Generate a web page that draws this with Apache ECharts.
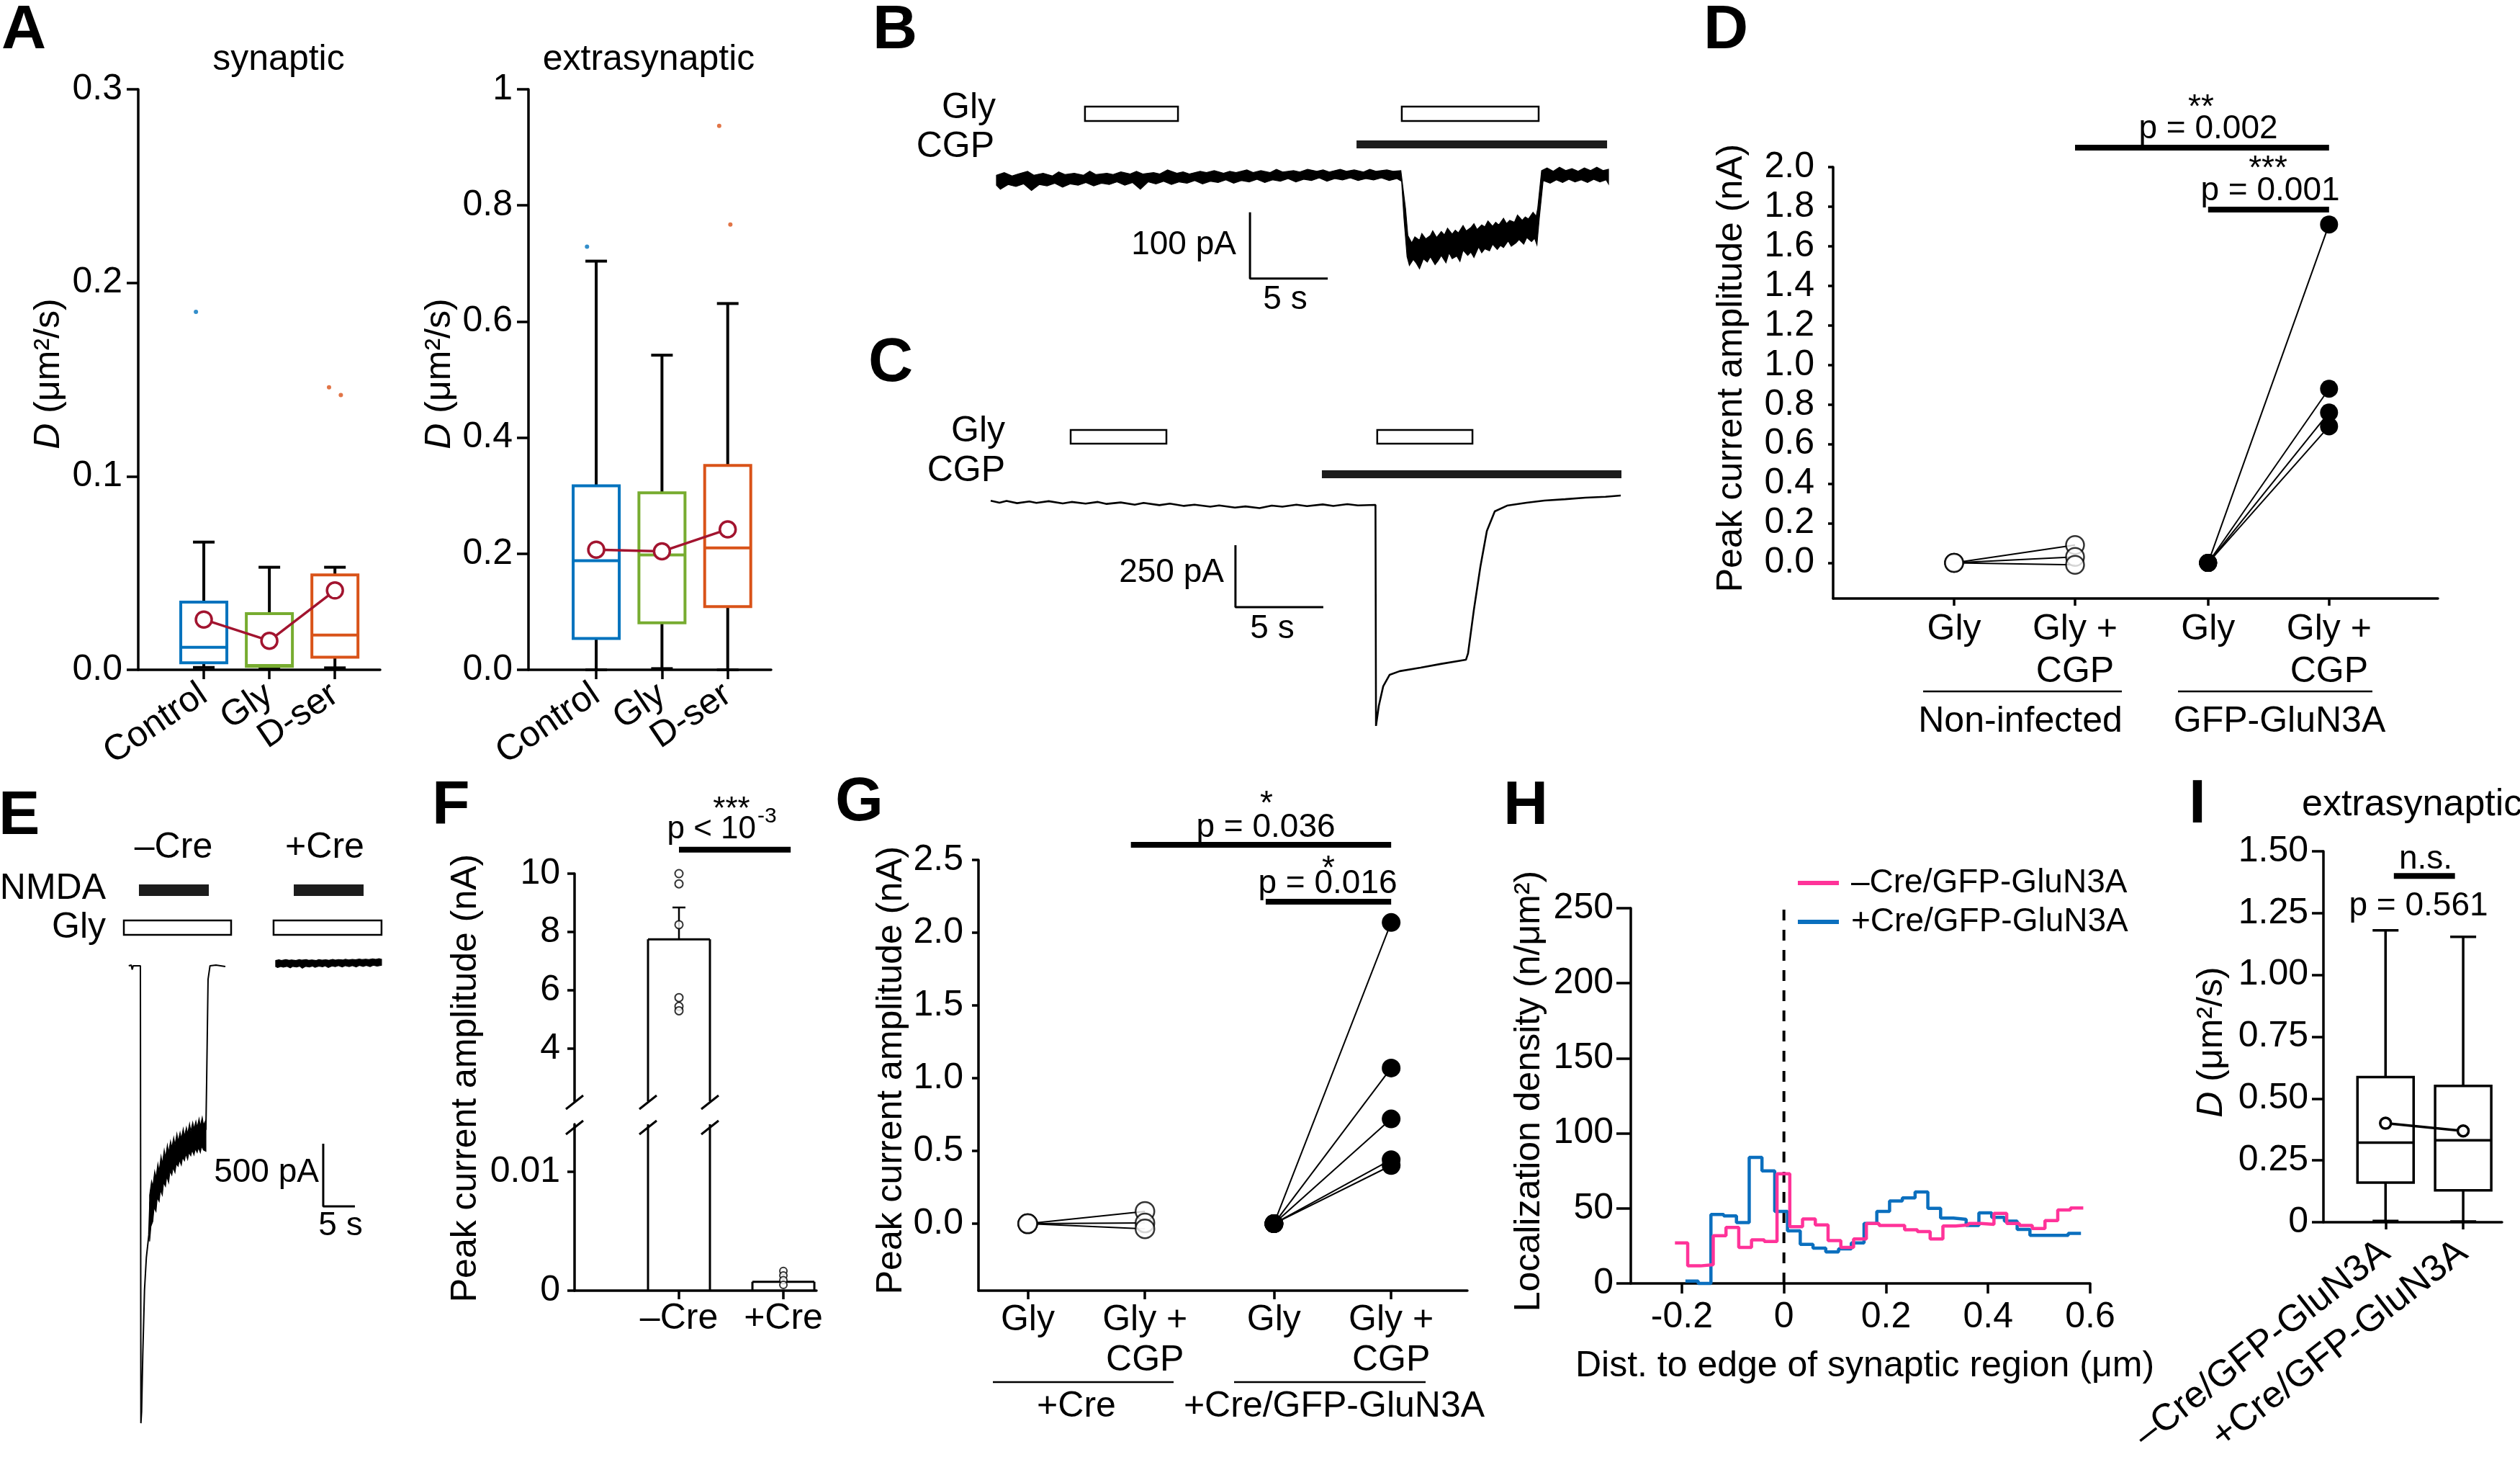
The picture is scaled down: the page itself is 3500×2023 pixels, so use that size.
<!DOCTYPE html>
<html><head><meta charset="utf-8">
<script src="https://cdn.jsdelivr.net/npm/echarts@6/dist/echarts.min.js"></script>
<style>html,body{margin:0;padding:0;background:#fff}#c{width:3500px;height:2023px}</style>
</head><body><div id="c"></div>
<script>
// ================= DATA =================
// Panel A
const aCats = ['Control', 'Gly', 'D-ser'];
const aPos = [1, 2, 3];
const aColors = ['#0072BD', '#77AC30', '#D95319'];
// [min, Q1, median, Q3, max]
const aSynBox = [[0.0012, 0.0036, 0.0116, 0.035, 0.066], [0.0005, 0.0018, 0.0022, 0.029, 0.053], [0.001, 0.0065, 0.018, 0.049, 0.053]];
const aSynOut = [[0.88, 0.185, 0], [2.91, 0.146, 2], [3.09, 0.142, 2]];
const aSynMean = [0.026, 0.015, 0.041];
const aExtBox = [[0, 0.054, 0.188, 0.317, 0.704], [0.002, 0.081, 0.198, 0.305, 0.542], [0, 0.109, 0.210, 0.352, 0.631]];
const aExtOut = [[0.86, 0.729, 0], [2.87, 0.937, 2], [3.04, 0.767, 2]];
const aExtMean = [0.207, 0.204, 0.242];

// Panel B (t in s, current in pA) : upper / lower envelope of the noisy trace
const bUpper = [[0,5],[0.5,9],[1,4],[1.4,7],[2,11],[2.4,5],[3,8],[3.6,4],[4,10],[4.4,6],[5,8],[5.6,5],[6,11],[6.4,6],[7.1,8],[7.5,6],[8,10],[8.6,7],[9,11],[9.4,7],[10.1,9],[10.5,7],[11,13],[11.6,8],[12,10],[12.4,7],[13.1,11],[13.5,9],[14,12],[14.6,8],[15,11],[15.4,9],[16.1,13],[16.5,9],[17,12],[17.6,9],[18,14],[18.4,10],[19.1,12],[19.5,10],[20,14],[20.6,11],[21,13],[21.4,10],[22.1,14],[22.5,11],[23,13],[23.6,10],[24,14],[24.4,11],[25.1,13],[25.5,11],[26,12],
  [26.3,-45],[26.45,-86],[26.7,-97],[26.9,-88],[27.2,-93],[27.35,-83],[27.6,-91],[27.9,-86],[28.05,-79],[28.3,-89],[28.6,-80],[28.8,-85],[29.0,-75],[29.3,-84],[29.5,-78],[29.7,-82],[30.0,-71],[30.2,-79],[30.5,-74],[30.7,-68],[30.9,-77],[31.2,-70],[31.4,-73],[31.6,-64],[31.9,-72],[32.1,-66],[32.3,-70],[32.6,-60],[32.8,-68],[33.0,-63],[33.3,-66],[33.5,-55],[33.8,-63],[34.0,-58],[34.2,-61],[34.5,-51],[34.7,-57],[34.8,-45],
  [35.05,12],[35.4,16],[35.8,11],[36.2,17],[36.6,12],[37.0,15],[37.4,11],[37.8,16],[38.2,12],[38.6,17],[39.0,12],[39.35,14]];
const bLower = [[0,-10],[0.25,-16],[0.75,-9],[1.25,-12],[1.75,-8],[2.25,-18],[2.75,-9],[3.25,-11],[3.75,-7],[4.25,-13],[4.75,-8],[5.25,-10],[5.75,-6],[6.25,-11],[6.75,-7],[7.25,-9],[7.75,-5],[8.25,-10],[8.75,-6],[9.25,-16],[9.75,-5],[10.25,-8],[10.75,-4],[11.25,-9],[11.75,-5],[12.25,-7],[12.75,-3],[13.25,-8],[13.75,-4],[14.25,-6],[14.75,-2],[15.25,-7],[15.75,-3],[16.25,-5],[16.75,-1],[17.25,-6],[17.75,-2],[18.25,-4],[18.75,0],[19.25,-5],[19.75,-1],[20.25,-3],[20.75,1],[21.25,-4],[21.75,0],[22.25,-2],[22.75,1],[23.25,-3],[23.75,0],[24.25,-2],[24.75,1],[25.25,-3],[25.75,0],[26.05,-4],
  [26.2,-60],[26.4,-118],[26.55,-131],[26.8,-122],[27.0,-128],[27.2,-136],[27.45,-121],[27.7,-126],[27.9,-118],[28.2,-130],[28.4,-124],[28.6,-116],[28.9,-127],[29.1,-112],[29.3,-121],[29.6,-117],[29.8,-125],[30.0,-108],[30.3,-116],[30.5,-111],[30.7,-119],[31.0,-103],[31.2,-112],[31.4,-106],[31.7,-109],[31.9,-99],[32.2,-107],[32.4,-101],[32.6,-104],[32.9,-94],[33.1,-102],[33.4,-97],[33.6,-92],[33.9,-99],[34.1,-89],[34.4,-95],[34.6,-90],[34.75,-100],[34.9,-60],
  [35.15,-3],[35.6,-7],[36.0,-2],[36.4,-6],[36.8,-1],[37.2,-5],[37.6,-2],[38.0,-6],[38.4,-1],[38.8,-5],[39.2,-2],[39.35,-8]];
const bGly = [[5.69, 11.67, 97.8], [26.06, 34.86, 97.8]];
const bCGP = [[23.15, 39.26, 51.6]];
const bScale = [[16.3, -51], [16.3, -151], [21.3, -151]];

// Panel C
const cTrace = [[0,14],[0.5,6],[0.9,13],[1.5,4],[2.2,11],[2.6,5],[3.3,12],[4.1,3],[4.6,9],[5.4,2],[6.1,9],[6.6,1],[7.4,7],[8.2,-2],[8.7,5],[9.6,-4],[10.2,2],[11.0,-7],[11.6,-2],[12.5,-10],[13.0,-5],[13.9,-14],[14.5,-9],[15.3,-16],[16.0,-6],[16.6,-10],[17.4,-2],[18.0,-8],[18.9,-1],[19.5,-7],[20.3,0],[20.9,-5],[21.9,-3],
  [21.93,-895],[22.09,-814],[22.34,-735],[22.7,-689],[23.28,-674],[24.47,-660],[25.61,-645],[27.05,-628],[27.17,-602],[27.5,-427],[27.87,-253],[28.24,-108],[28.69,-29],[29.39,-6],[30.5,6],[31.52,14.5],[32.7,20],[33.85,26],[35.0,30],[35.86,35]];
const cGly = [[4.55, 10.0, 271.8], [22.0, 27.42, 271.8]];
const cCGP = [[18.85, 35.9, 120.6]];
const cScale = [[13.93, -165.7], [13.93, -415.7], [18.93, -415.7]];

// Panel D
const dLabels = ['Gly', 'Gly +\nCGP', 'Gly', 'Gly +\nCGP'];
const dPos = [1, 2, 3.1, 4.1];
const dNiGly = [0, 0, 0];
const dNiCGP = [0.09, 0.03, -0.01];
const dGfpGly = [0, 0, 0, 0];
const dGfpCGP = [1.71, 0.88, 0.76, 0.69];

// Panel E
const eNeg = [[1.0,0],[1.4,6],[1.55,-30],[1.7,0],[2.84,0],[2.92,-3650],[3.03,-3557],[3.22,-3098],[3.49,-2586],[3.78,-2328],[4.17,-2149],[4.35,-1891],[4.92,-1793],[5.68,-1690],[6.82,-1586],[7.95,-1534],[9.09,-1460],[10.23,-1408],[11.36,-1368],[12.5,-1328],[13.18,-1305],[13.3,-914],[13.52,-109],[13.83,0],[14.77,6],[16.25,-6]];
const eNegUpper = [[4.3,-1830],[4.6,-1720],[4.8,-1760],[5.1,-1640],[5.3,-1690],[5.6,-1580],[5.8,-1640],[6.1,-1520],[6.3,-1580],[6.6,-1470],[6.8,-1530],[7.1,-1430],[7.3,-1490],[7.6,-1400],[7.8,-1450],[8.1,-1370],[8.3,-1430],[8.6,-1340],[8.8,-1400],[9.1,-1330],[9.3,-1380],[9.6,-1300],[9.8,-1360],[10.1,-1290],[10.3,-1340],[10.6,-1260],[10.8,-1320],[11.1,-1250],[11.3,-1300],[11.6,-1240],[11.8,-1290],[12.1,-1220],[12.3,-1280],[12.6,-1210],[12.8,-1270],[13.18,-1230]];
const eNegLower = [[4.3,-2200],[4.5,-2080],[4.8,-2040],[5.0,-1930],[5.3,-1960],[5.5,-1850],[5.8,-1880],[6.0,-1790],[6.3,-1830],[6.5,-1730],[6.8,-1760],[7.0,-1680],[7.3,-1730],[7.5,-1640],[7.8,-1670],[8.0,-1610],[8.3,-1650],[8.5,-1580],[8.8,-1600],[9.0,-1550],[9.3,-1590],[9.5,-1530],[9.8,-1555],[10.0,-1500],[10.3,-1545],[10.5,-1490],[10.8,-1515],[11.0,-1470],[11.3,-1510],[11.5,-1460],[11.8,-1490],[12.0,-1450],[12.3,-1490],[12.5,-1440],[12.8,-1470],[13.18,-1480]];
const ePosUpper = [[24.2,42],[24.7,48],[25.1,43],[25.8,50],[26.3,44],[26.7,47],[27.4,42],[27.9,49],[28.3,45],[29.0,50],[29.4,44],[29.9,47],[30.6,43],[31.0,50],[31.5,45],[32.1,48],[32.6,44],[33.2,51],[33.6,46],[34.1,49],[34.8,46],[35.2,52],[35.7,47],[36.3,51],[36.8,48],[37.4,54],[37.8,49],[38.4,53],[38.9,50],[39.5,55],[40.0,51],[40.5,56],[40.9,52]];
const ePosLower = [[24.2,-6],[24.5,-14],[25.0,-5],[25.4,-11],[26.0,-4],[26.5,-16],[26.9,-5],[27.5,-10],[28.0,-3],[28.4,-19],[28.9,-4],[29.5,-9],[30.0,-2],[30.4,-12],[31.0,-3],[31.6,-8],[32.0,0],[32.5,-13],[33.1,-1],[33.6,-7],[34.1,1],[34.7,-10],[35.2,1],[35.8,-6],[36.3,2],[36.9,-9],[37.4,3],[38.0,-5],[38.5,3],[39.1,-7],[39.6,4],[40.2,-3],[40.9,4]];
const eNMDA = [[2.61, 13.64, 603], [27.05, 38.07, 603]];
const eGly = [[0.23, 17.16, 305], [23.86, 40.9, 305]];
const eScale = [[31.7, -1419.5], [31.7, -1919.5], [36.7, -1919.5]];

// Panel F
const fCats = ['\u2013Cre', '+Cre'];
const fMean = [7.75, 0.00075];
const fErrTop = [8.84];
const fPtsNeg = [10.0, 9.65, 8.25, 5.75, 5.45, 5.3];
const fPtsPos = [0.00165, 0.00127, 0.00088, 0.00048];

// Panel G
const gLabels = ['Gly', 'Gly +\nCGP', 'Gly', 'Gly +\nCGP'];
const gPos = [0.42, 1.42, 2.52, 3.52];
const gCreGly = [0, 0, 0];
const gCreCGP = [0.085, 0.005, -0.035];
const gGfpGly = [0, 0, 0, 0, 0];
const gGfpCGP = [2.07, 1.07, 0.72, 0.44, 0.40];

// Panel H (bin edges in um, density in n/um2)
const hBlueEdges = [-0.193,-0.168,-0.143,-0.118,-0.093,-0.068,-0.043,-0.018,0.007,0.032,0.057,0.082,0.107,0.132,0.157,0.182,0.207,0.232,0.257,0.282,0.307,0.332,0.357,0.382,0.407,0.432,0.457,0.482,0.507,0.532,0.557,0.582];
const hBlueVals = [1.6,0,46,45,40.5,84,75,48,35,26,23.5,21,23,27,40,48,55,57,61,50,43.5,42.7,38.6,47,44,41.5,36,32,32,32,33.4];
const hPinkEdges = [-0.2135,-0.1885,-0.1635,-0.1385,-0.1135,-0.0885,-0.0635,-0.0385,-0.0135,0.0115,0.0365,0.0615,0.0865,0.1115,0.1365,0.1615,0.1865,0.2115,0.2365,0.2615,0.2865,0.3115,0.3365,0.3615,0.3865,0.4115,0.4365,0.4615,0.4865,0.5115,0.5365,0.5615,0.5865];
const hPinkVals = [27,11.7,12.5,31.8,37.3,24,29,28,73,37.8,43,39,28.5,24,29.6,40,38.6,38.6,35.7,34.5,29.6,38.3,39,40,39.4,46.7,40,38.6,36.6,41.9,49,50.3];
const hXTicks = [-0.2, 0, 0.2, 0.4, 0.6];

// Panel I
const iCats = ['\u2013Cre/GFP-GluN3A', '+Cre/GFP-GluN3A'];
const iPos = [0.8, 1.8];
const iBox = [[0.005, 0.160, 0.322, 0.587, 1.18], [0.003, 0.129, 0.331, 0.551, 1.154]];
const iMean = [0.40, 0.369];

// ================= CHART =================
const FONT = "'Liberation Sans', Arial, Helvetica, sans-serif";
const K = '#000';
const AXL = {color: K, width: 3.5};

function vAxis(gi, min, max, o) {
  o = o || {};
  const ax = {
    gridIndex: gi, type: 'value', min: min, max: max,
    show: o.show !== false,
    axisLine: {show: true, onZero: false, lineStyle: AXL},
    axisTick: {show: true, length: o.tickLen || 14, lineStyle: AXL},
    axisLabel: {show: true, color: K, fontSize: o.fs || 50, fontFamily: FONT, margin: o.margin || 20, rotate: o.rotate || 0},
    splitLine: {show: false}, splitArea: {show: false}
  };
  if (o.interval !== undefined) ax.interval = o.interval;
  if (o.ticks) { ax.axisTick.customValues = o.ticks; ax.axisLabel.customValues = o.ticks; }
  if (o.fmt) ax.axisLabel.formatter = o.fmt;
  if (o.lh) ax.axisLabel.lineHeight = o.lh;
  return ax;
}

const grids = [
  {left: 192, top: 124, width: 336, height: 806},   // 0 A synaptic
  {left: 734, top: 124, width: 337, height: 806},   // 1 A extrasynaptic
  {left: 1384, top: 140, width: 850, height: 280},  // 2 B
  {left: 1376, top: 590, width: 876, height: 425},  // 3 C
  {left: 2546, top: 232, width: 840, height: 599},  // 4 D
  {left: 170, top: 1215, width: 370, height: 775},  // 5 E
  {left: 798, top: 1213, width: 336, height: 316},  // 6 F upper
  {left: 798, top: 1561, width: 336, height: 231},  // 7 F lower
  {left: 1359, top: 1194, width: 679, height: 598}, // 8 G
  {left: 2265, top: 1261, width: 638, height: 521}, // 9 H
  {left: 3227, top: 1182, width: 248, height: 545}  // 10 I
];

const xAxes = [
  vAxis(0, 0, 3.69, {ticks: aPos, tickLen: 13, rotate: 34, margin: 30, fmt: v => aCats[aPos.indexOf(v)]}),
  vAxis(1, -0.03, 3.66, {ticks: aPos, tickLen: 13, rotate: 34, margin: 30, fmt: v => aCats[aPos.indexOf(v)]}),
  vAxis(2, 0, 39.35, {show: false}),
  vAxis(3, 0, 35.9, {show: false}),
  vAxis(4, 0, 5, {ticks: dPos, tickLen: 10, margin: 14, lh: 59, fmt: v => dLabels[dPos.indexOf(v)]}),
  vAxis(5, 0, 42.05, {show: false}),
  vAxis(6, 0, 2.317, {show: false}),
  vAxis(7, 0, 2.317, {ticks: [1, 2], tickLen: 12, margin: 14, fmt: v => fCats[Math.round(v) - 1]}),
  vAxis(8, 0, 4.17, {ticks: gPos, tickLen: 12, margin: 13, lh: 56, fmt: v => gLabels[gPos.indexOf(v)]}),
  vAxis(9, -0.3, 0.6, {ticks: hXTicks, tickLen: 14, margin: 22, fmt: v => v === 0 ? '0' : v.toFixed(1)}),
  vAxis(10, 0, 2.3, {ticks: iPos, tickLen: 10, rotate: 38, margin: 36, fs: 52, fmt: v => iCats[iPos.indexOf(v)]})
];
const yAxes = [
  vAxis(0, 0, 0.3, {interval: 0.1, tickLen: 16, margin: 22, fmt: v => v.toFixed(1)}),
  vAxis(1, 0, 1, {interval: 0.2, tickLen: 16, margin: 22, fmt: v => (Math.abs(v - 1) < 1e-9 ? '1' : v.toFixed(1))}),
  vAxis(2, -187, 117.3, {show: false}),
  vAxis(3, -915.7, 319.8, {show: false}),
  vAxis(4, -0.18, 2.0, {ticks: [0, 0.2, 0.4, 0.6, 0.8, 1.0, 1.2, 1.4, 1.6, 1.8, 2.0], tickLen: 7, margin: 26, fmt: v => v.toFixed(1)}),
  vAxis(5, -3730, 724, {show: false}),
  vAxis(6, 2.2, 10, {ticks: [4, 6, 8, 10], tickLen: 10, margin: 20}),
  vAxis(7, 0, 0.014, {ticks: [0, 0.01], tickLen: 10, margin: 20, fmt: v => (v === 0 ? '0' : '0.01')}),
  vAxis(8, -0.46, 2.5, {ticks: [0, 0.5, 1, 1.5, 2, 2.5], tickLen: 9, margin: 21, fmt: v => v.toFixed(1)}),
  vAxis(9, 0, 250, {interval: 50, tickLen: 20, margin: 24}),
  vAxis(10, 0, 1.5, {interval: 0.25, tickLen: 16, margin: 21, fmt: v => (v === 0 ? '0' : v.toFixed(2))})
];

// ---- render helpers ----
function boxRender(colors, halfW, capHalf, lw) {
  return function (params, api) {
    const x = api.value(0);
    const c = k => api.coord([x, api.value(k)]);
    const pMin = c(1), pQ1 = c(2), pMed = c(3), pQ3 = c(4), pMax = c(5);
    const cx = pMin[0];
    const col = colors[params.dataIndex % colors.length];
    const ks = {stroke: K, lineWidth: lw};
    return {type: 'group', children: [
      {type: 'line', shape: {x1: cx, y1: pMin[1], x2: cx, y2: pQ1[1]}, style: ks},
      {type: 'line', shape: {x1: cx, y1: pQ3[1], x2: cx, y2: pMax[1]}, style: ks},
      {type: 'line', shape: {x1: cx - capHalf, y1: pMin[1], x2: cx + capHalf, y2: pMin[1]}, style: ks},
      {type: 'line', shape: {x1: cx - capHalf, y1: pMax[1], x2: cx + capHalf, y2: pMax[1]}, style: ks},
      {type: 'rect', shape: {x: cx - halfW, y: pQ3[1], width: 2 * halfW, height: pQ1[1] - pQ3[1]}, style: {stroke: col, lineWidth: lw, fill: 'none'}},
      {type: 'line', shape: {x1: cx - halfW, y1: pMed[1], x2: cx + halfW, y2: pMed[1]}, style: {stroke: col, lineWidth: lw}}
    ]};
  };
}
function bandRender(upper, lower) {
  return function (params, api) {
    const pts = upper.map(p => api.coord(p)).concat(lower.slice().reverse().map(p => api.coord(p)));
    return {type: 'polygon', shape: {points: pts}, style: {fill: K, stroke: K, lineWidth: 1.2}};
  };
}
function appRender(h, filled) {
  return function (params, api) {
    const a = api.coord([api.value(0), api.value(2)]);
    const b = api.coord([api.value(1), api.value(2)]);
    return {type: 'rect', shape: {x: a[0], y: a[1] - h / 2, width: b[0] - a[0], height: h},
      style: filled ? {fill: '#1c1c1c'} : {fill: '#fff', stroke: K, lineWidth: 2.5}};
  };
}
function fBarRender(hw) {
  return function (params, api) {
    const cs = params.coordSys;
    const x = api.value(0);
    const t = api.coord([x, api.value(1)]);
    const b = api.coord([x, 0]);
    const top = Math.max(t[1], cs.y), bot = Math.min(b[1], cs.y + cs.height);
    const s = {stroke: K, lineWidth: 3};
    const ch = [
      {type: 'line', shape: {x1: t[0] - hw, y1: top, x2: t[0] - hw, y2: bot}, style: s},
      {type: 'line', shape: {x1: t[0] + hw, y1: top, x2: t[0] + hw, y2: bot}, style: s}];
    if (t[1] >= cs.y) ch.push({type: 'line', shape: {x1: t[0] - hw, y1: top, x2: t[0] + hw, y2: top}, style: s});
    return {type: 'group', children: ch};
  };
}
function errRender(cap) {
  return function (params, api) {
    const a = api.coord([api.value(0), api.value(1)]);
    const b = api.coord([api.value(0), api.value(2)]);
    const s = {stroke: K, lineWidth: 2.5};
    return {type: 'group', children: [
      {type: 'line', shape: {x1: a[0], y1: a[1], x2: b[0], y2: b[1]}, style: s},
      {type: 'line', shape: {x1: b[0] - cap, y1: b[1], x2: b[0] + cap, y2: b[1]}, style: s}]};
  };
}

const series = [];
function ax(gi) { return {xAxisIndex: gi, yAxisIndex: gi}; }
function add(gi, s) { series.push(Object.assign({silent: true, animation: false}, ax(gi), s)); }
function lineS(gi, data, w, extra) { add(gi, Object.assign({type: 'line', data: data, symbol: 'none', clip: false, lineStyle: {color: K, width: w}, z: 3}, extra || {})); }
function sig(gi, x1, x2, y) { lineS(gi, [[x1, y], [x2, y]], 8, {z: 6}); }

// ---- A ----
[[0, aSynBox, aSynOut, aSynMean], [1, aExtBox, aExtOut, aExtMean]].forEach(function (cfg) {
  const gi = cfg[0];
  add(gi, {type: 'custom', renderItem: boxRender(aColors, 32, 15, 4), data: cfg[1].map((b, i) => [aPos[i]].concat(b)), encode: {x: 0, y: [1, 2, 3, 4, 5]}, z: 2});
  add(gi, {type: 'scatter', data: cfg[2], symbol: 'circle', symbolSize: 6, clip: false, itemStyle: {color: p => aColors[p.data[2]]}, z: 3});
  add(gi, {type: 'line', data: cfg[3].map((v, i) => [aPos[i], v]), symbol: 'circle', symbolSize: 22, clip: false,
    lineStyle: {color: '#A2142F', width: 3.5}, itemStyle: {color: '#fff', borderColor: '#A2142F', borderWidth: 3.5}, z: 4});
});

// ---- B ----
add(2, {type: 'custom', renderItem: bandRender(bUpper, bLower), data: [bUpper[0]], encode: {x: 0, y: 1}, z: 3});
add(2, {type: 'custom', renderItem: appRender(20, false), data: bGly, encode: {x: [0, 1], y: 2}, z: 3});
add(2, {type: 'custom', renderItem: appRender(11, true), data: bCGP, encode: {x: [0, 1], y: 2}, z: 3});
lineS(2, bScale, 3);

// ---- C ----
lineS(3, cTrace, 2.6);
add(3, {type: 'custom', renderItem: appRender(19, false), data: cGly, encode: {x: [0, 1], y: 2}, z: 3});
add(3, {type: 'custom', renderItem: appRender(11, true), data: cCGP, encode: {x: [0, 1], y: 2}, z: 3});
lineS(3, cScale, 3);

// ---- D ----
dNiCGP.forEach((v, i) => lineS(4, [[dPos[0], dNiGly[i]], [dPos[1], v]], 2));
dGfpCGP.forEach((v, i) => lineS(4, [[dPos[2], dGfpGly[i]], [dPos[3], v]], 2));
add(4, {type: 'scatter', data: dNiGly.map(v => [dPos[0], v]).concat(dNiCGP.map(v => [dPos[1], v])), symbol: 'circle', symbolSize: 25, clip: false,
  itemStyle: {color: '#fff', borderColor: K, borderWidth: 2.5}, z: 5});
add(4, {type: 'scatter', data: dGfpGly.map(v => [dPos[2], v]).concat(dGfpCGP.map(v => [dPos[3], v])), symbol: 'circle', symbolSize: 25, clip: false,
  itemStyle: {color: K, opacity: 1}, z: 5});
sig(4, dPos[1], dPos[3], 2.098);
sig(4, dPos[2], dPos[3], 1.785);

// ---- E ----
lineS(5, eNeg, 2);
add(5, {type: 'custom', renderItem: bandRender(eNegUpper, eNegLower), data: [eNegUpper[0]], encode: {x: 0, y: 1}, z: 3});
add(5, {type: 'custom', renderItem: bandRender(ePosUpper, ePosLower), data: [ePosUpper[0]], encode: {x: 0, y: 1}, z: 3});
add(5, {type: 'custom', renderItem: appRender(16, true), data: eNMDA, encode: {x: [0, 1], y: 2}, z: 3});
add(5, {type: 'custom', renderItem: appRender(20, false), data: eGly, encode: {x: [0, 1], y: 2}, z: 3});
lineS(5, eScale, 3);

// ---- F ----
add(6, {type: 'custom', renderItem: fBarRender(43), data: [[1, fMean[0]]], encode: {x: 0, y: 1}, z: 2});
add(7, {type: 'custom', renderItem: fBarRender(43), data: [[1, fMean[0]], [2, fMean[1]]], encode: {x: 0, y: 1}, z: 2});
add(6, {type: 'custom', renderItem: errRender(9), data: [[1, fMean[0], fErrTop[0]]], encode: {x: 0, y: [1, 2]}, z: 3});
add(6, {type: 'scatter', data: fPtsNeg.map(v => [1, v]), symbol: 'circle', symbolSize: 11, clip: false, itemStyle: {color: '#fff', borderColor: K, borderWidth: 2}, z: 4});
add(7, {type: 'scatter', data: fPtsPos.map(v => [2, v]), symbol: 'circle', symbolSize: 10, clip: false, itemStyle: {color: '#fff', borderColor: K, borderWidth: 2}, z: 4});
sig(6, 1, 2.07, 10.82);

// ---- G ----
gCreCGP.forEach((v, i) => lineS(8, [[gPos[0], gCreGly[i]], [gPos[1], v]], 2));
gGfpCGP.forEach((v, i) => lineS(8, [[gPos[2], gGfpGly[i]], [gPos[3], v]], 2));
add(8, {type: 'scatter', data: gCreGly.map(v => [gPos[0], v]).concat(gCreCGP.map(v => [gPos[1], v])), symbol: 'circle', symbolSize: 26, clip: false,
  itemStyle: {color: '#fff', borderColor: K, borderWidth: 2.5}, z: 5});
add(8, {type: 'scatter', data: gGfpGly.map(v => [gPos[2], v]).concat(gGfpCGP.map(v => [gPos[3], v])), symbol: 'circle', symbolSize: 26, clip: false,
  itemStyle: {color: K, opacity: 1}, z: 5});
sig(8, 1.3, gPos[3], 2.604);
sig(8, 2.45, gPos[3], 2.213);

// ---- H ----
function stepData(edges, vals) { const d = vals.map((v, i) => [edges[i], v]); d.push([edges[vals.length], vals[vals.length - 1]]); return d; }
add(9, {type: 'line', name: '+Cre/GFP-GluN3A', step: 'end', data: stepData(hBlueEdges, hBlueVals), symbol: 'none', clip: false, lineStyle: {color: '#0B6FBE', width: 4.5}, itemStyle: {color: '#0B6FBE'}, z: 3});
add(9, {type: 'line', name: '\u2013Cre/GFP-GluN3A', step: 'end', data: stepData(hPinkEdges, hPinkVals), symbol: 'none', clip: false, lineStyle: {color: '#FF3399', width: 4.5}, itemStyle: {color: '#FF3399'}, z: 4});
lineS(9, [[0, 0], [0, 250]], 4, {lineStyle: {color: K, width: 4, type: [15, 13]}, z: 2});

// ---- I ----
add(10, {type: 'custom', renderItem: boxRender([K, K], 39, 18, 3.5), data: iBox.map((b, i) => [iPos[i]].concat(b)), encode: {x: 0, y: [1, 2, 3, 4, 5]}, z: 2});
add(10, {type: 'line', data: iMean.map((v, i) => [iPos[i], v]), symbol: 'circle', symbolSize: 15, clip: false,
  lineStyle: {color: K, width: 3.5}, itemStyle: {color: '#fff', borderColor: K, borderWidth: 3.5}, z: 4});
sig(10, 0.907, 1.694, 1.40);

// ---- text / decorations ----
const G = [];
const RICH = {i: {fontStyle: 'italic', fontSize: 50, fontFamily: FONT, fill: K}};
function txt(text, x, y, o) {
  o = o || {};
  const al = o.align || 'center';
  const st = {text: text, fill: K, fontSize: o.size || 50, fontFamily: FONT, fontWeight: o.bold ? 'bold' : 'normal',
    textAlign: al, textVerticalAlign: 'middle', align: al, verticalAlign: 'middle'};
  if (o.rich) st.rich = o.rich;
  G.push({type: 'text', x: x, y: y, rotation: o.rot || 0, z: 50, silent: true, style: st});
}
function seg(x1, y1, x2, y2, w) { G.push({type: 'line', silent: true, z: 50, shape: {x1: x1, y1: y1, x2: x2, y2: y2}, style: {stroke: K, lineWidth: w || 3}}); }
const L = {size: 86, bold: true, align: 'left'};
const R90 = Math.PI / 2;
txt('A', 2, 43, L); txt('B', 1212, 43, L); txt('C', 1206, 505, L); txt('D', 2366, 43, L);
txt('E', -2, 1134, L); txt('F', 600, 1120, L); txt('G', 1160, 1115, L); txt('H', 2088, 1120, L); txt('I', 3040, 1118, L);
txt('synaptic', 387, 83); txt('extrasynaptic', 901, 83); txt('extrasynaptic', 3197, 1118, {align: 'left', size: 52});
txt('{i|D} (\u03bcm\u00b2/s)', 68, 519, {rot: R90, rich: RICH});
txt('{i|D} (\u03bcm\u00b2/s)', 611, 519, {rot: R90, rich: RICH});
txt('{i|D} (\u03bcm\u00b2/s)', 3072, 1447, {rot: R90, rich: RICH});
txt('Peak current amplitude (nA)', 2405, 511, {rot: R90});
txt('Peak current amplitude (nA)', 647, 1497, {rot: R90});
txt('Peak current amplitude (nA)', 1238, 1486, {rot: R90});
txt('Localization density (n/\u03bcm\u00b2)', 2124, 1515, {rot: R90});
txt('Dist. to edge of synaptic region (\u03bcm)', 2590, 1897);
// B
txt('Gly', 1383, 150, {align: 'right'}); txt('CGP', 1381, 204, {align: 'right'});
txt('100 pA', 1717, 340, {align: 'right', size: 46}); txt('5 s', 1785, 416, {size: 46});
// C
txt('Gly', 1396, 599, {align: 'right'}); txt('CGP', 1396, 654, {align: 'right'});
txt('250 pA', 1700, 795, {align: 'right', size: 46}); txt('5 s', 1767, 873, {size: 46});
// D
txt('**', 3057, 150, {size: 46}); txt('p = 0.002', 3067, 179, {size: 46});
txt('***', 3150, 235, {size: 46}); txt('p = 0.001', 3153, 265, {size: 46});
txt('Non-infected', 2806, 1002); txt('GFP-GluN3A', 3166, 1002);
seg(2671, 960, 2947, 960, 2.5); seg(3025, 960, 3295, 960, 2.5);
// E
txt('\u2013Cre', 241, 1177); txt('+Cre', 451, 1177);
txt('NMDA', 147, 1234, {align: 'right'}); txt('Gly', 147, 1288, {align: 'right'});
txt('500 pA', 443, 1628, {align: 'right', size: 46}); txt('5 s', 473, 1702, {size: 46});
// F
txt('***', 1016, 1125, {size: 44});
txt('p < 10', 1050, 1152, {align: 'right', size: 44}); txt('-3', 1052, 1134, {align: 'left', size: 30});
[798, 900, 986].forEach(function (x0) { seg(x0 - 12, 1540, x0 + 12, 1521, 3); seg(x0 - 12, 1575, x0 + 12, 1556, 3); });
// G
txt('*', 1759, 1117, {size: 46}); txt('p = 0.036', 1758, 1149, {size: 46});
txt('*', 1845, 1207, {size: 46}); txt('p = 0.016', 1844, 1227, {size: 46});
txt('+Cre', 1495, 1953); txt('+Cre/GFP-GluN3A', 1853, 1953);
seg(1379, 1919, 1630, 1919, 2.5); seg(1714, 1919, 1980, 1919, 2.5);
// I
txt('n.s.', 3369, 1193, {size: 46}); txt('p = 0.561', 3359, 1258, {size: 46});

const chart = echarts.init(document.getElementById('c'), null, {renderer: 'canvas', width: 3500, height: 2023});
chart.setOption({
  animation: false,
  backgroundColor: '#fff',
  textStyle: {fontFamily: FONT},
  grid: grids,
  xAxis: xAxes,
  yAxis: yAxes,
  legend: {
    show: true, selectedMode: false, orient: 'vertical', left: 2497, top: 1201, padding: 0,
    itemWidth: 57, itemHeight: 6, itemGap: 4, icon: 'rect',
    data: ['\u2013Cre/GFP-GluN3A', '+Cre/GFP-GluN3A'],
    textStyle: {fontSize: 46, fontFamily: FONT, color: K, lineHeight: 50, padding: [0, 0, 0, 12]}
  },
  series: series,
  graphic: {elements: G}
});
</script>
</body></html>
